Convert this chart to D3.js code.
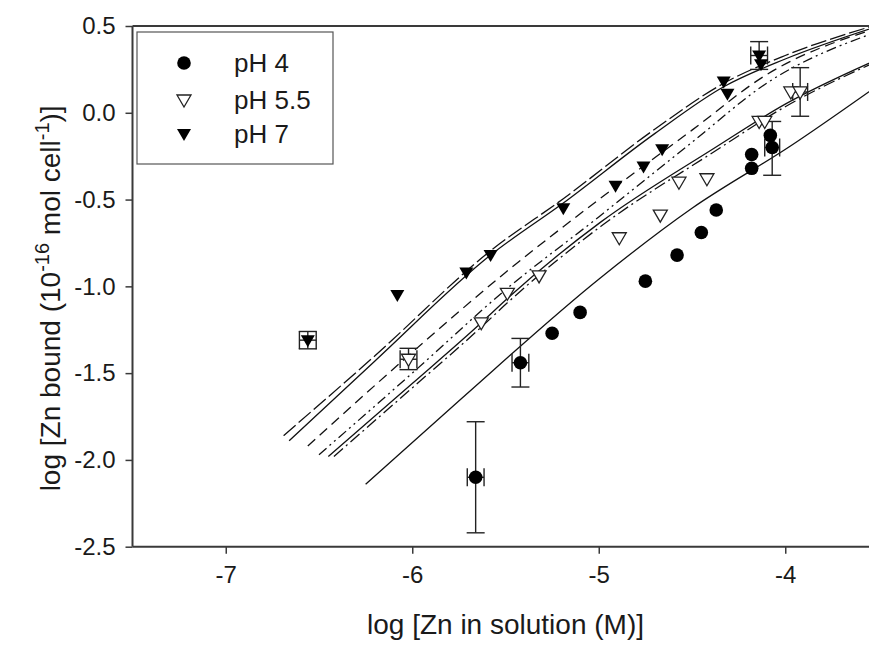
<!DOCTYPE html>
<html>
<head>
<meta charset="utf-8">
<script src="https://cdn.jsdelivr.net/npm/d3@7"></script>
<style>
  body { margin: 0; background: #fff; }
  text { font-family: "Liberation Sans", Arial, sans-serif; fill: #1a1a1a; }
</style>
</head>
<body>
<svg id="chart" width="869" height="645"></svg>
<script>
// Axis ticks
const xTicks = [-7, -6, -5, -4];
const yTicks = [0.5, 0.0, -0.5, -1.0, -1.5, -2.0, -2.5];

// Measured Zn binding, log units
const ph4X  = [-5.66, -5.42, -5.25, -5.10, -4.75, -4.58, -4.45, -4.37, -4.18, -4.18, -4.08, -4.07];
const ph4Y  = [-2.10, -1.44, -1.27, -1.15, -0.97, -0.82, -0.69, -0.56, -0.24, -0.32, -0.13, -0.20];
const ph55X = [-6.02, -5.63, -5.49, -5.32, -4.89, -4.67, -4.57, -4.42, -4.14, -4.11, -3.97, -3.92];
const ph55Y = [-1.42, -1.21, -1.04, -0.94, -0.72, -0.59, -0.40, -0.38, -0.05, -0.05, 0.12, 0.12];
const ph7X  = [-6.56, -6.08, -5.71, -5.58, -5.19, -4.91, -4.76, -4.66, -4.33, -4.31, -4.14, -4.13];
const ph7Y  = [-1.31, -1.05, -0.92, -0.82, -0.55, -0.42, -0.31, -0.21, 0.18, 0.11, 0.33, 0.28];

// Error bars: series, x, y, x half-width, y upper, y lower
const errSeries = ["pH 4", "pH 4", "pH 4", "pH 5.5", "pH 5.5", "pH 7", "pH 7"];
const errX      = [-5.66, -5.42, -4.07, -6.02, -3.92, -6.56, -4.14];
const errY      = [-2.10, -1.44, -0.20, -1.42, 0.12, -1.31, 0.33];
const errXHalf  = [0.045, 0.045, 0.04, 0.045, 0.04, 0.045, 0.045];
const errYHi    = [-1.78, -1.30, -0.05, -1.357, 0.26, -1.26, 0.41];
const errYLo    = [-2.42, -1.58, -0.36, -1.48, -0.02, -1.36, 0.25];

// Model curves (log bound vs log solution)
const curveP7a  = [[-6.66,-1.89],[-6.2,-1.43],[-5.58,-0.82],[-5.19,-0.52],[-4.7,-0.12],[-4.33,0.15],[-4.0,0.31],[-3.5,0.50]];
const curveP7b  = [[-6.69,-1.86],[-6.2,-1.40],[-5.58,-0.795],[-5.19,-0.495],[-4.7,-0.095],[-4.33,0.17],[-4.0,0.33],[-3.5,0.51]];
const curveP7c  = [[-6.56,-1.92],[-6.0,-1.38],[-5.5,-0.92],[-5.0,-0.50],[-4.5,-0.10],[-4.1,0.22],[-3.5,0.49]];
const curveP7d  = [[-6.50,-1.97],[-6.0,-1.50],[-5.5,-1.02],[-5.0,-0.60],[-4.5,-0.17],[-4.1,0.17],[-3.5,0.47]];
const curveP55a = [[-6.45,-1.98],[-6.0,-1.56],[-5.63,-1.21],[-5.49,-1.07],[-4.99,-0.63],[-4.39,-0.21],[-4.0,0.05],[-3.5,0.31]];
const curveP55b = [[-6.42,-1.98],[-6.0,-1.585],[-5.63,-1.235],[-5.49,-1.095],[-4.99,-0.655],[-4.39,-0.23],[-4.0,0.035],[-3.5,0.30]];
const curveP4   = [[-6.25,-2.14],[-5.74,-1.65],[-4.99,-0.95],[-4.5,-0.55],[-3.97,-0.19],[-3.5,0.16]];

const curves = [
  { pts: curveP7a,  dash: null },
  { pts: curveP7b,  dash: "16,4" },
  { pts: curveP7c,  dash: "10,6" },
  { pts: curveP7d,  dash: "10,4,2,4,2,4" },
  { pts: curveP55a, dash: null },
  { pts: curveP55b, dash: "12,4,2,4" },
  { pts: curveP4,   dash: null }
];

const svg = d3.select("#chart");
const x = d3.scaleLinear().domain([-7.5, -3.5]).range([132.5, 878.5]);
const y = d3.scaleLinear().domain([-2.5, 0.5]).range([546.7, 26]);

const axisColor = "#3a3a3a";
const fontFam = '"Liberation Sans", Arial, sans-serif';

// Curves
const line = d3.line().x(d => x(d[0])).y(d => y(d[1])).curve(d3.curveMonotoneX);
svg.append("g").selectAll("path").data(curves).join("path")
  .attr("d", d => line(d.pts))
  .attr("fill", "none")
  .attr("stroke", "#111")
  .attr("stroke-width", 1.3)
  .attr("stroke-dasharray", d => d.dash);

// Error bars
const cap = 9;
const eg = svg.append("g").attr("stroke", "#222").attr("stroke-width", 1.4).attr("fill", "none");
errX.forEach((ex, i) => {
  const cx = x(ex), cy = y(errY[i]);
  const x0 = x(ex - errXHalf[i]), x1 = x(ex + errXHalf[i]);
  const yh = y(errYHi[i]), yl = y(errYLo[i]);
  eg.append("line").attr("x1", cx).attr("x2", cx).attr("y1", yh).attr("y2", yl);
  eg.append("line").attr("x1", cx - cap).attr("x2", cx + cap).attr("y1", yh).attr("y2", yh);
  eg.append("line").attr("x1", cx - cap).attr("x2", cx + cap).attr("y1", yl).attr("y2", yl);
  eg.append("line").attr("x1", x0).attr("x2", x1).attr("y1", cy).attr("y2", cy);
  eg.append("line").attr("x1", x0).attr("x2", x0).attr("y1", cy - cap).attr("y2", cy + cap);
  eg.append("line").attr("x1", x1).attr("x2", x1).attr("y1", cy - cap).attr("y2", cy + cap);
});

// Marker shapes
const triDown = "M-7,-5L7,-5L0,7Z";
function drawMarker(g, kind, cx, cy) {
  if (kind === "pH 4") {
    g.append("circle").attr("cx", cx).attr("cy", cy).attr("r", 6.8).attr("fill", "#000");
  } else if (kind === "pH 5.5") {
    g.append("path").attr("d", triDown).attr("transform", `translate(${cx},${cy})`)
      .attr("fill", "#fff").attr("stroke", "#222").attr("stroke-width", 1.3);
  } else {
    g.append("path").attr("d", triDown).attr("transform", `translate(${cx},${cy})`)
      .attr("fill", "#000");
  }
}

const mg = svg.append("g");
ph55X.forEach((v, i) => drawMarker(mg, "pH 5.5", x(v), y(ph55Y[i])));
ph7X.forEach((v, i) => drawMarker(mg, "pH 7", x(v), y(ph7Y[i])));
ph4X.forEach((v, i) => drawMarker(mg, "pH 4", x(v), y(ph4Y[i])));

// Axes (plain hyphen for negative numbers)
const hyph = f => d => f(d).replace("\u2212", "-");
const xAxis = d3.axisBottom(x).tickValues(xTicks).tickSize(7).tickPadding(12).tickFormat(hyph(d3.format("d")));
const yAxis = d3.axisLeft(y).tickValues(yTicks).tickSize(7).tickPadding(10).tickFormat(hyph(d3.format(".1f")));

const gx = svg.append("g").attr("transform", `translate(0,${y(-2.5)})`).call(xAxis);
const gy = svg.append("g").attr("transform", `translate(${x(-7.5)},0)`).call(yAxis);
[gx, gy].forEach(g => {
  g.select(".domain").attr("stroke", axisColor).attr("stroke-width", 2);
  g.selectAll(".tick line").attr("stroke", axisColor).attr("stroke-width", 1.5);
  g.selectAll(".tick text").attr("font-size", 24).attr("fill", "#1a1a1a").style("font-family", fontFam);
});
gx.select(".domain").attr("d", `M${x(-7.5)},0H${x(-3.5)}`);
gy.select(".domain").attr("d", `M0,${y(-2.5)}V${y(0.5)}`);

// Top frame line
svg.append("line").attr("x1", x(-7.5)).attr("x2", x(-3.5)).attr("y1", y(0.5)).attr("y2", y(0.5))
  .attr("stroke", axisColor).attr("stroke-width", 2);

// Axis titles
svg.append("text").attr("x", (x(-7.5) + x(-3.5)) / 2).attr("y", 634)
  .attr("text-anchor", "middle").attr("font-size", 28)
  .text("log [Zn in solution (M)]");

const yt = svg.append("text")
  .attr("transform", `translate(60,${(y(0.5) + y(-2.5)) / 2 + 12}) rotate(-90)`)
  .attr("text-anchor", "middle").attr("font-size", 28);
yt.append("tspan").text("log [Zn bound (10");
yt.append("tspan").attr("dy", -11).attr("font-size", 20).text("-16");
yt.append("tspan").attr("dy", 11).text(" mol cell");
yt.append("tspan").attr("dy", -11).attr("font-size", 20).text("-1");
yt.append("tspan").attr("dy", 11).text(")]");

// Legend
const legendItems = ["pH 4", "pH 5.5", "pH 7"];
const legendRows = [63, 100, 134];
const lg = svg.append("g");
lg.append("rect").attr("x", 137).attr("y", 32).attr("width", 196).attr("height", 132)
  .attr("fill", "#fff").attr("stroke", "#555").attr("stroke-width", 1.2);
legendItems.forEach((k, i) => {
  drawMarker(lg, k, 184, legendRows[i]);
  lg.append("text").attr("x", 234).attr("y", legendRows[i]).attr("dy", "0.35em")
    .attr("font-size", 26).text(k);
});
</script>
</body>
</html>
